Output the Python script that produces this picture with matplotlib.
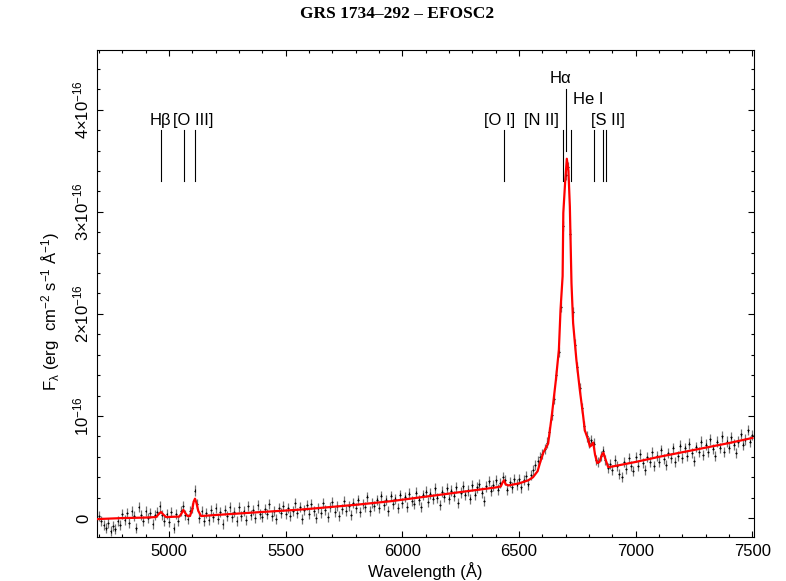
import numpy as np
import matplotlib.pyplot as plt
from matplotlib.ticker import MultipleLocator, FixedLocator

plt.rcParams['font.family'] = ['Liberation Sans', 'DejaVu Sans']
plt.rcParams['mathtext.default'] = 'regular'

# observed spectrum: 10 A bins from 4700 to 7500 A, flux in units of 1e-16 erg/cm2/s/A
wave = np.arange(4700, 7501, 10)
flux = [
    0.02, -0.03, -0.07, -0.10, -0.05, -0.13, -0.08, -0.11, -0.03, -0.07,
    0.04, -0.02, 0.05, -0.05, 0.07, 0.02, -0.10, 0.11, 0.03, -0.03,
    0.07, 0.00, 0.05, -0.06, 0.03, 0.06, 0.12, 0.03, -0.03, 0.04,
    -0.04, 0.06, -0.10, 0.04, -0.03, 0.07, 0.12, 0.03, -0.01, 0.07,
    0.10, 0.27, 0.14, 0.00, 0.07, -0.03, 0.05, -0.02, 0.08, 0.01,
    0.10, -0.01, 0.06, -0.06, 0.08, 0.02, 0.11, 0.01, 0.06, -0.03,
    0.11, 0.02, 0.07, -0.02, 0.12, 0.03, 0.08, 0.00, 0.13, 0.04,
    0.01, 0.09, 0.04, 0.14, 0.02, 0.07, -0.01, 0.10, 0.05, 0.12,
    0.04, 0.10, 0.02, 0.07, 0.15, 0.05, 0.11, -0.01, 0.08, 0.13,
    0.04, 0.14, 0.07, 0.00, 0.10, 0.05, 0.15, 0.08, 0.01, 0.11,
    0.16, 0.06, 0.12, 0.02, 0.09, 0.17, 0.07, 0.12, 0.03, 0.15,
    0.10, 0.18, 0.06, 0.14, 0.11, 0.21, 0.07, 0.15, 0.12, 0.18,
    0.10, 0.22, 0.13, 0.18, 0.07, 0.22, 0.14, 0.19, 0.10, 0.23,
    0.15, 0.21, 0.11, 0.24, 0.17, 0.14, 0.25, 0.18, 0.11, 0.23,
    0.26, 0.16, 0.24, 0.19, 0.29, 0.20, 0.13, 0.26, 0.21, 0.29,
    0.19, 0.27, 0.22, 0.30, 0.15, 0.25, 0.31, 0.23, 0.27, 0.19,
    0.32, 0.23, 0.30, 0.33, 0.25, 0.17, 0.31, 0.36, 0.27, 0.32,
    0.37, 0.28, 0.34, 0.40, 0.37, 0.28, 0.35, 0.30, 0.38, 0.33,
    0.38, 0.30, 0.37, 0.41, 0.33, 0.42, 0.47, 0.52, 0.56, 0.60,
    0.63, 0.68, 0.74, 0.84, 1.01, 1.17, 1.40, 1.63, 2.07, 2.86,
    3.36, 3.44, 2.78, 2.02, 1.70, 1.48, 1.27, 1.08, 0.90, 0.80,
    0.74, 0.76, 0.73, 0.57, 0.55, 0.61, 0.66, 0.57, 0.49, 0.53,
    0.47, 0.57, 0.51, 0.43, 0.40, 0.55, 0.48, 0.59, 0.51, 0.46,
    0.60, 0.51, 0.63, 0.54, 0.47, 0.60, 0.55, 0.65, 0.51, 0.61,
    0.55, 0.67, 0.58, 0.52, 0.64, 0.59, 0.69, 0.55, 0.61, 0.71,
    0.59, 0.69, 0.61, 0.73, 0.64, 0.56, 0.70, 0.65, 0.75, 0.62,
    0.72, 0.65, 0.77, 0.68, 0.61, 0.75, 0.69, 0.80, 0.65, 0.75,
    0.69, 0.79, 0.72, 0.64, 0.75, 0.82, 0.72, 0.77, 0.86, 0.75, 0.81,
]
flux_err = 0.05

# best-fit model (continuum + emission lines), same units
model_wave = [4690, 4800, 4900, 4945, 4955, 4966, 4976, 4988,
              5045, 5054, 5062, 5070, 5080, 5090,
              5100, 5106, 5112, 5118, 5126, 5138,
              5200, 5300, 5400, 5544, 5600, 5700, 5800, 5950,
              6100, 6200, 6300, 6400,
              6422, 6430, 6436, 6443, 6455,
              6500, 6540, 6560, 6580, 6590, 6604,
              6625, 6642, 6658, 6671, 6678, 6687, 6690, 6698,
              6705, 6712, 6718, 6725, 6732, 6746, 6761, 6775, 6782,
              6796, 6804, 6812, 6818, 6826, 6835, 6845, 6855, 6862, 6870, 6882,
              6900, 7000, 7100, 7200, 7300, 7400, 7500]
model_flux = [-0.01, 0.0, 0.005, 0.01, 0.035, 0.06, 0.035, 0.01,
              0.015, 0.045, 0.08, 0.05, 0.02, 0.02,
              0.08, 0.16, 0.19, 0.15, 0.07, 0.02,
              0.03, 0.045, 0.06, 0.08, 0.09, 0.11, 0.13, 0.165,
              0.21, 0.24, 0.27, 0.30,
              0.31, 0.35, 0.37, 0.33, 0.32,
              0.34, 0.37, 0.40, 0.46, 0.54, 0.64,
              0.73, 1.03, 1.35, 1.65, 2.04, 2.37, 2.99, 3.30,
              3.52, 3.40, 3.05, 2.30, 1.91, 1.55, 1.25, 1.00, 0.86,
              0.77, 0.70, 0.72, 0.74, 0.62, 0.54, 0.55, 0.62, 0.64, 0.58, 0.50,
              0.505, 0.55, 0.60, 0.645, 0.69, 0.735, 0.785]

# emission line identifications (observed wavelengths)
line_names = ['H\u03b2', '[O III]', '[O I]', '[N II]', 'H\u03b1', 'He I', '[S II]']
line_waves = [[4965], [5065, 5114], [6435], [6688, 6724], [6703], [6821], [6860, 6875]]

y_ticks = [0, 1, 2, 3, 4]
y_tick_labels = ['0', '$10^{-16}$', r'$2{\times}10^{-16}$', r'$3{\times}10^{-16}$', r'$4{\times}10^{-16}$']
x_ticks = [5000, 5500, 6000, 6500, 7000, 7500]


def main():
    fig = plt.figure(figsize=(7.86, 5.81), dpi=100)
    ax = fig.add_axes([0.1228, 0.0749, 0.8359, 0.8399])

    # grey error bars with small black crosses at the data points
    ax.errorbar(wave, flux, yerr=flux_err, fmt='none',
                ecolor='0.45', elinewidth=0.9, zorder=2)
    ax.errorbar(wave, flux, yerr=0.012, xerr=4, fmt='none',
                ecolor='k', elinewidth=0.8, zorder=2)
    ax.plot(model_wave, model_flux, color='red', lw=1.6, zorder=3)

    # line markers: (label x, label y, tick bottom, tick top)
    layout = {
        'H\u03b2': (4962, 3.89, 3.30, 3.80),
        '[O III]': (5103, 3.89, 3.30, 3.80),
        '[O I]': (6418, 3.89, 3.30, 3.80),
        '[N II]': (6597, 3.89, 3.30, 3.80),
        'H\u03b1': (6678, 4.31, 3.60, 4.20),
        'He I': (6795, 4.10, 3.30, 3.80),
        '[S II]': (6881, 3.89, 3.30, 3.80),
    }
    for name, waves in zip(line_names, line_waves):
        lx, ly, y0, y1 = layout[name]
        for w in waves:
            ax.plot([w, w], [y0, y1], color='k', lw=0.8, zorder=4)
        ax.text(lx, ly, name, ha='center', va='center', fontsize=12)

    ax.set_xlim(4690, 7505)
    ax.set_ylim(-0.19, 4.59)
    ax.xaxis.set_major_locator(FixedLocator(x_ticks))
    ax.xaxis.set_minor_locator(MultipleLocator(100))
    ax.yaxis.set_major_locator(FixedLocator(y_ticks))
    ax.yaxis.set_minor_locator(MultipleLocator(0.2))
    ax.set_yticklabels(y_tick_labels, rotation=90, va='center')
    ax.tick_params(which='both', direction='in', top=True, right=True, labelsize=12)
    ax.tick_params(which='major', length=4.5, width=0.8)
    ax.tick_params(which='minor', length=2.5, width=0.8)
    ax.tick_params(axis='y', pad=4)
    ax.tick_params(axis='x', pad=5)

    ax.set_xlabel('Wavelength (\u00c5)', fontsize=12, labelpad=2)
    fig.text(0.064, 0.463, 'F$_\\lambda$ (erg  cm$^{-2}$ s$^{-1}$ \u00c5$^{-1}$)',
             rotation=90, ha='center', va='center', fontsize=12)
    fig.text(0.505, 0.976, 'GRS 1734\u2013292 \u2013 EFOSC2', ha='center', va='center',
             fontsize=12.5, fontweight='bold', family='Liberation Serif')

    fig.savefig('out.png', dpi=100)


if __name__ == '__main__':
    main()
